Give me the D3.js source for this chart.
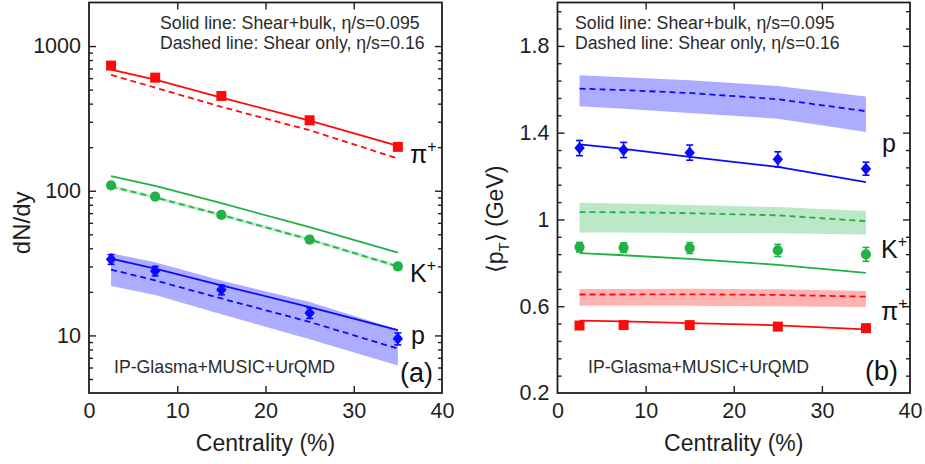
<!DOCTYPE html>
<html>
<head>
<meta charset="utf-8">
<script src="https://cdn.jsdelivr.net/npm/d3@7"></script>
<style>
  body { margin: 0; background: #fff; }
  svg { display: block; font-family: "Liberation Sans", Arial, Helvetica, sans-serif; }
</style>
</head>
<body>
<svg id="fig" width="925" height="464"></svg>
<script>
// ---------- data ----------
const centrality = [2.5, 7.5, 15, 25, 35];
const centralityTicks = [0, 10, 20, 30, 40];
const dndyTicks = [10, 100, 1000];
const ptTicks = [0.2, 0.6, 1.0, 1.4, 1.8];

// (a) dN/dy — measured
const dndyPion = [733, 605, 452, 307, 201];
const dndyKaon = [109, 91, 68, 46, 30];
const dndyKaonErr = [4, 3.5, 3, 2.5, 1.5];
const dndyProton = [33.6, 27.9, 20.7, 14.3, 9.5];
const dndyProtonErr = [2.6, 2.1, 1.6, 1.2, 0.9];
// (a) dN/dy — hydro, shear+bulk (solid)
const dndyPionBulk = [687, 585, 440, 305, 204];
const dndyKaonBulk = [126, 108, 82, 56, 37.3];
const dndyProtonBulk = [34, 29, 22.2, 15.7, 10.9];
// (a) dN/dy — hydro, shear only (dashed) with bands
const dndyPionShear = [631, 516, 380, 262, 167];
const dndyKaonShear = [107, 90, 68, 46, 30];
const dndyKaonShearHi = [110, 92.5, 70, 47.3, 30.9];
const dndyKaonShearLo = [104, 87.5, 66, 44.7, 29.1];
const dndyProtonShear = [28.5, 24, 18, 12.4, 8.1];
const dndyProtonShearHi = [37, 32, 24, 17, 11];
const dndyProtonShearLo = [22, 19, 14, 9.4, 6.2];

// (b) <pT> — measured
const ptPion = [0.511, 0.513, 0.513, 0.506, 0.499];
const ptPionErr = [0.01, 0.01, 0.01, 0.01, 0.01];
const ptKaon = [0.872, 0.870, 0.868, 0.857, 0.839];
const ptKaonErr = [0.022, 0.022, 0.025, 0.028, 0.032];
const ptProton = [1.329, 1.320, 1.308, 1.277, 1.234];
const ptProtonErr = [0.035, 0.035, 0.035, 0.035, 0.03];
// (b) <pT> — shear+bulk (solid)
const ptPionBulk = [0.534, 0.530, 0.522, 0.512, 0.493];
const ptKaonBulk = [0.845, 0.835, 0.818, 0.791, 0.754];
const ptProtonBulk = [1.346, 1.325, 1.288, 1.242, 1.172];
// (b) <pT> — shear only (dashed) with bands
const ptPionShear = [0.654, 0.654, 0.655, 0.652, 0.644];
const ptPionShearHi = [0.679, 0.679, 0.680, 0.678, 0.670];
const ptPionShearLo = [0.602, 0.602, 0.602, 0.600, 0.596];
const ptKaonShear = [1.034, 1.033, 1.029, 1.019, 0.992];
const ptKaonShearHi = [1.077, 1.073, 1.067, 1.057, 1.039];
const ptKaonShearLo = [0.940, 0.940, 0.938, 0.936, 0.931];
const ptProtonShear = [1.603, 1.596, 1.583, 1.554, 1.499];
const ptProtonShearHi = [1.665, 1.655, 1.642, 1.615, 1.567];
const ptProtonShearLo = [1.522, 1.510, 1.491, 1.464, 1.403];

// ---------- style ----------
const RED = "#ff0a0a", GREEN = "#1fb346", BLUE = "#0a0aff";
const INK = "#1e1e1e", NOTE = "#2b2b2b";
const frameTop = 2.5, frameBottom = 393;

const svg = d3.select("#fig");

const xA = d3.scaleLinear([0, 40], [89, 442]);
const yA = d3.scaleLog([4, 2000], [frameBottom, frameTop]);
const xB = d3.scaleLinear([0, 40], [557.5, 910]);
const yB = d3.scaleLinear([0.2, 2.0], [frameBottom, frameTop]);

const zip = (...cols) => centrality.map((c, i) => [c, ...cols.map(a => a[i])]);

function band(g, x, y, hi, lo, color, op) {
  g.append("path")
    .datum(zip(hi, lo))
    .attr("d", d3.area().x(d => x(d[0])).y0(d => y(d[2])).y1(d => y(d[1])))
    .attr("fill", color).attr("fill-opacity", op).attr("stroke", "none");
}
function line(g, x, y, vals, color, dashed) {
  g.append("path")
    .datum(zip(vals))
    .attr("d", d3.line().x(d => x(d[0])).y(d => y(d[1])))
    .attr("fill", "none").attr("stroke", color).attr("stroke-width", 1.8)
    .attr("stroke-dasharray", dashed ? "6,4" : null);
}
function errs(g, x, y, vals, err, color) {
  const rows = zip(vals, err);
  const eg = g.append("g").attr("stroke", color).attr("stroke-width", 1.6);
  rows.forEach(d => {
    const x0 = x(d[0]), yh = y(d[1] + d[2]), yl = y(d[1] - d[2]);
    eg.append("line").attr("x1", x0).attr("x2", x0).attr("y1", yh).attr("y2", yl);
    eg.append("line").attr("x1", x0 - 3.5).attr("x2", x0 + 3.5).attr("y1", yh).attr("y2", yh);
    eg.append("line").attr("x1", x0 - 3.5).attr("x2", x0 + 3.5).attr("y1", yl).attr("y2", yl);
  });
}
const diamond = "M0,-6.2L5.2,0L0,6.2L-5.2,0Z";
function markers(g, x, y, vals, color, shape) {
  const sym = shape === "square" ? d3.symbol(d3.symbolSquare, 100)()
            : shape === "circle" ? d3.symbol(d3.symbolCircle, 82)()
            : diamond;
  g.append("g").selectAll("path").data(zip(vals)).join("path")
    .attr("transform", d => `translate(${x(d[0])},${y(d[1])})`)
    .attr("d", sym).attr("fill", color);
}

function frame(g, x, y, majors, minors, fmt) {
  const x0 = x.range()[0], x1 = x.range()[1];
  const inner = centralityTicks.filter(v => v > 0 && v < 40);
  // bottom axis with labels
  const bx = g.append("g").attr("transform", `translate(0,${frameBottom})`)
    .call(d3.axisBottom(x).tickValues(centralityTicks).tickSize(-7).tickPadding(10).tickFormat(d3.format("d")));
  bx.selectAll(".tick line").filter(d => d === 0 || d === 40).remove();
  // top axis, ticks only
  g.append("g").attr("transform", `translate(0,${frameTop})`)
    .call(d3.axisTop(x).tickValues(inner).tickSize(-7).tickFormat(""));
  // left axis with labels
  const ly = g.append("g").attr("transform", `translate(${x0},0)`)
    .call(d3.axisLeft(y).tickValues(majors).tickSize(-7).tickPadding(8).tickFormat(fmt));
  ly.selectAll(".tick line").filter(d => y(d) >= frameBottom - 0.5).remove();
  g.append("g").attr("transform", `translate(${x0},0)`)
    .call(d3.axisLeft(y).tickValues(minors).tickSize(-4).tickFormat(""));
  // right axis, ticks only
  g.append("g").attr("transform", `translate(${x1},0)`)
    .call(d3.axisRight(y).tickValues(majors.filter(v => y(v) < frameBottom - 0.5)).tickSize(-7).tickFormat(""));
  g.append("g").attr("transform", `translate(${x1},0)`)
    .call(d3.axisRight(y).tickValues(minors).tickSize(-4).tickFormat(""));
  g.selectAll(".domain").remove();
  g.selectAll(".tick line").attr("stroke", INK).attr("stroke-width", 1.4);
  g.selectAll(".tick text").attr("font-size", 21.5).attr("fill", INK)
    .attr("font-family", '"Liberation Sans", Arial, sans-serif');
  g.append("rect").attr("x", x0).attr("y", frameTop)
    .attr("width", x1 - x0).attr("height", frameBottom - frameTop)
    .attr("fill", "none").attr("stroke", INK).attr("stroke-width", 1.8);
  g.append("text").attr("x", x(20)).attr("y", 451)
    .attr("text-anchor", "middle").attr("font-size", 23).attr("fill", INK)
    .text("Centrality (%)");
}

function notes(g, x, xText, xModel) {
  const t = g.append("g").attr("font-size", 17.7).attr("fill", NOTE);
  t.append("text").attr("x", xText).attr("y", 29).text("Solid line: Shear+bulk, η/s=0.095");
  t.append("text").attr("x", xText).attr("y", 49).text("Dashed line: Shear only, η/s=0.16");
  t.append("text").attr("x", xModel).attr("y", 373).text("IP-Glasma+MUSIC+UrQMD");
}
function species(g, x, y, name, sup) {
  const t = g.append("text").attr("x", x).attr("y", y).attr("font-size", 25).attr("fill", "#111").text(name);
  if (sup) t.append("tspan").attr("font-size", 16).attr("dy", -11).text(sup);
}

// ---------- panel (a): dN/dy ----------
const gA = svg.append("g");
band(gA, xA, yA, dndyProtonShearHi, dndyProtonShearLo, "#0000ff", 0.32);
band(gA, xA, yA, dndyKaonShearHi, dndyKaonShearLo, GREEN, 0.25);
line(gA, xA, yA, dndyPionBulk, RED, false);
line(gA, xA, yA, dndyPionShear, RED, true);
line(gA, xA, yA, dndyKaonBulk, GREEN, false);
line(gA, xA, yA, dndyKaonShear, GREEN, true);
line(gA, xA, yA, dndyProtonBulk, BLUE, false);
line(gA, xA, yA, dndyProtonShear, BLUE, true);
errs(gA, xA, yA, dndyKaon, dndyKaonErr, GREEN);
errs(gA, xA, yA, dndyProton, dndyProtonErr, BLUE);
markers(gA, xA, yA, dndyPion, RED, "square");
markers(gA, xA, yA, dndyKaon, GREEN, "circle");
markers(gA, xA, yA, dndyProton, BLUE, "diamond");

const logMinors = [];
[1, 10, 100, 1000].forEach(dec => d3.range(2, 10).forEach(m => {
  const v = m * dec;
  if (v > 4 && v < 2000) logMinors.push(v);
}));
frame(gA, xA, yA, dndyTicks, logMinors, d3.format("d"));
notes(gA, xA, 160, 114);
species(gA, 410, 163, "π", "+");
species(gA, 410, 282, "K", "+");
species(gA, 411, 344, "p", null);
gA.append("text").attr("x", 400).attr("y", 382).attr("font-size", 27).attr("fill", "#111").text("(a)");
gA.append("text")
  .attr("transform", `translate(30,${yA(60)}) rotate(-90)`)
  .attr("text-anchor", "middle").attr("font-size", 24).attr("fill", INK)
  .text("dN/dy");

// ---------- panel (b): <pT> ----------
const gB = svg.append("g");
band(gB, xB, yB, ptProtonShearHi, ptProtonShearLo, "#0000ff", 0.32);
band(gB, xB, yB, ptKaonShearHi, ptKaonShearLo, GREEN, 0.3);
band(gB, xB, yB, ptPionShearHi, ptPionShearLo, "#ff0000", 0.3);
line(gB, xB, yB, ptProtonShear, BLUE, true);
line(gB, xB, yB, ptKaonShear, GREEN, true);
line(gB, xB, yB, ptPionShear, RED, true);
line(gB, xB, yB, ptProtonBulk, BLUE, false);
line(gB, xB, yB, ptKaonBulk, GREEN, false);
line(gB, xB, yB, ptPionBulk, RED, false);
errs(gB, xB, yB, ptProton, ptProtonErr, BLUE);
errs(gB, xB, yB, ptKaon, ptKaonErr, GREEN);
errs(gB, xB, yB, ptPion, ptPionErr, RED);
markers(gB, xB, yB, ptProton, BLUE, "diamond");
markers(gB, xB, yB, ptKaon, GREEN, "circle");
markers(gB, xB, yB, ptPion, RED, "square");

const ptMinors = d3.range(0, 23).map(i => 0.2 + i * 0.08)
  .filter(v => v > 0.21 && v < 1.99 && Math.abs(((v - 0.2) / 0.4) - Math.round((v - 0.2) / 0.4)) > 0.01);
frame(gB, xB, yB, ptTicks, ptMinors, d => String(+d.toFixed(1)));
notes(gB, xB, 575, 588);
species(gB, 882, 152, "p", null);
species(gB, 881, 258, "K", "+");
species(gB, 881, 320, "π", "+");
gB.append("text").attr("x", 865).attr("y", 380).attr("font-size", 27).attr("fill", "#111").text("(b)");
const yt = gB.append("text")
  .attr("transform", `translate(503,${yB(1.0)}) rotate(-90)`)
  .attr("text-anchor", "middle").attr("font-size", 23).attr("fill", INK);
yt.append("tspan").text("⟨p");
yt.append("tspan").attr("font-size", 15).attr("dy", 6).text("T");
yt.append("tspan").attr("dy", -6).text("⟩ (GeV)");
</script>
</body>
</html>
